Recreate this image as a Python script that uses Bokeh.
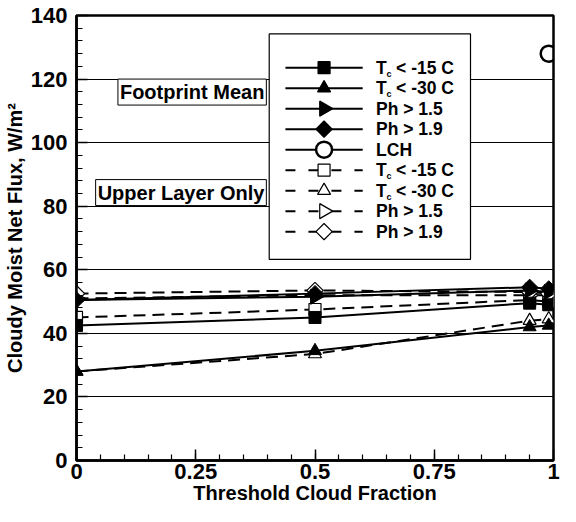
import numpy as np
from bokeh.plotting import figure
from bokeh.models import Range1d, SingleIntervalTicker, NumeralTickFormatter, Label
from bokeh.core.properties import value
from bokeh.embed import file_html
from bokeh.resources import INLINE

# ---------------- data ----------------
threshold = [0.0, 0.5, 0.95, 0.99]

# Footprint mean (solid lines, filled markers)
fm_tc15 = [42.5, 45.0, 49.5, 49.0]
fm_tc30 = [28.0, 34.5, 42.0, 42.5]
fm_ph15 = [50.5, 51.5, 53.5, 53.0]
fm_ph19 = [50.5, 52.5, 54.5, 54.0]

# LCH single value
lch_x = [0.99]
lch_y = [128.0]

# Upper layer only (dashed lines, open markers)
ul_tc15 = [45.0, 47.5, 50.5, 50.0]
ul_tc30 = [28.0, 33.5, 44.0, 44.5]
ul_ph15 = [51.0, 52.0, 52.0, 52.0]
ul_ph19 = [52.5, 53.5, 53.0, 52.5]

legend_labels = [
    ("T", "c", "< -15 C"),
    ("T", "c", "< -30 C"),
    ("Ph > 1.5", "", ""),
    ("Ph > 1.9", "", ""),
    ("LCH", "", ""),
    ("T", "c", "< -15 C"),
    ("T", "c", "< -30 C"),
    ("Ph > 1.5", "", ""),
    ("Ph > 1.9", "", ""),
]
x_tick_interval = 0.25
y_tick_interval = 20
annot_texts = ["Footprint Mean", "Upper Layer Only"]
x_title = "Threshold Cloud Fraction"
y_title = "Cloudy Moist Net Flux, W/m\u00b2"

FONT = "Liberation Sans"
HALF_PI = np.pi / 2
QUARTER_PI = np.pi / 4

# marker styles (marker, size, angle)
MK_SQUARE = ("square", 12, 0.0)
MK_TRI = ("triangle", 13, 0.0)
MK_RTRI = ("triangle", 15, -HALF_PI)
MK_DIAM = ("square", 11.5, QUARTER_PI)
MK_CIRC = ("circle", 16, 0.0)

solid = [(fm_tc15, MK_SQUARE), (fm_tc30, MK_TRI), (fm_ph15, MK_RTRI), (fm_ph19, MK_DIAM)]
dashed = [(ul_tc15, MK_SQUARE), (ul_tc30, MK_TRI), (ul_ph15, MK_RTRI), (ul_ph19, MK_DIAM)]

p = figure(width=560, height=506,
           x_range=Range1d(0, 1), y_range=Range1d(0, 140),
           output_backend="svg", toolbar_location=None,
           min_border_left=0, min_border_right=7,
           min_border_top=15, min_border_bottom=0)
p.background_fill_color = "white"
p.border_fill_color = "white"
p.outline_line_color = "black"
p.outline_line_width = 2.5

p.xaxis.ticker = SingleIntervalTicker(interval=x_tick_interval, num_minor_ticks=5)
p.yaxis.ticker = SingleIntervalTicker(interval=y_tick_interval, num_minor_ticks=5)
p.xaxis.formatter = NumeralTickFormatter(format="0.[00]")
p.xaxis.axis_label = x_title
p.yaxis.axis_label = y_title
for ax in (p.xaxis, p.yaxis):
    ax.axis_line_color = "black"
    ax.axis_line_width = 2.5
    ax.major_tick_in = 11
    ax.major_tick_out = 0
    ax.minor_tick_in = 6
    ax.minor_tick_out = 0
    ax.major_tick_line_color = "black"
    ax.minor_tick_line_color = "black"
    ax.major_tick_line_width = 1.5
    ax.minor_tick_line_width = 1.2
    ax.major_label_text_font = FONT
    ax.major_label_text_font_style = "bold"
    ax.major_label_text_font_size = "22px"
    ax.major_label_text_color = "black"
    ax.axis_label_text_font = FONT
    ax.axis_label_text_font_style = "bold"
    ax.axis_label_text_font_size = "20px"
    ax.axis_label_text_color = "black"
p.xaxis.major_label_standoff = 3
p.xaxis.axis_label_standoff = 0
p.yaxis.major_label_standoff = 9
p.yaxis.axis_label_standoff = 2

p.xgrid.visible = False
p.ygrid.grid_line_color = "black"
p.ygrid.grid_line_width = 1
p.ygrid.grid_line_alpha = 1.0

DATA_DASH = "12 7"

# upper-layer (dashed) series first, then footprint mean on top
for ys, (mk, sz, ang) in dashed:
    p.line(threshold, ys, line_color="black", line_width=2, line_dash=DATA_DASH)
    p.scatter(threshold, ys, marker=mk, size=sz, angle=ang,
              fill_color="white", line_color="black", line_width=1.2)
for ys, (mk, sz, ang) in solid:
    p.line(threshold, ys, line_color="black", line_width=2)
    p.scatter(threshold, ys, marker=mk, size=sz, angle=ang,
              fill_color="black", line_color="black", line_width=1)
p.scatter(lch_x, lch_y, marker="circle", size=16,
          fill_color=None, line_color="black", line_width=2.5)

# ---------------- legend box (layout in axis units) ----------------
LEG_L, LEG_R, LEG_T, LEG_B = 0.404, 0.826, 134.2, 63.3
LINE_X0, LINE_X1, MARK_X, TEXT_X = 0.438, 0.600, 0.519, 0.628
ROW0, ROW_STEP = 123.6, 6.45
LEG_DASH = "10 13"

p.quad(left=[LEG_L], right=[LEG_R], top=[LEG_T], bottom=[LEG_B],
       fill_color="white", line_color="black", line_width=1.2)

legend_styles = [(s[1], "solid", "black") for s in solid] + [(MK_CIRC, "solid", None)] + \
                [(s[1], LEG_DASH, "white") for s in dashed]

for i, ((mk, sz, ang), dash, fill) in enumerate(legend_styles):
    ry = ROW0 - i * ROW_STEP
    p.line([LINE_X0, LINE_X1], [ry, ry], line_color="black", line_width=2, line_dash=dash)
    if mk == "circle":
        p.scatter([MARK_X], [ry], marker=mk, size=sz, fill_color="white",
                  line_color="black", line_width=2.5)
    else:
        p.scatter([MARK_X], [ry], marker=mk, size=sz, angle=ang, fill_color=fill,
                  line_color="black", line_width=1.2)
    main, sub, rest = legend_labels[i]
    p.text([TEXT_X], [ry], text=[main], text_font=value(FONT), text_font_style="bold",
           text_font_size="17.5px", text_baseline="middle", text_align="left",
           text_color="black")
    if sub:
        p.text([TEXT_X], [ry], text=[sub], x_offset=10.5, y_offset=6,
               text_font=value(FONT), text_font_style="bold",
               text_font_size="9px", text_baseline="middle", text_align="left",
               text_color="black")
    if rest:
        p.text([TEXT_X], [ry], text=[rest], x_offset=20,
               text_font=value(FONT), text_font_style="bold",
               text_font_size="17.5px", text_baseline="middle", text_align="left",
               text_color="black")

# ---------------- boxed annotations ----------------
for txt, yy, base in [(annot_texts[0], 120.0, "top"), (annot_texts[1], 80.2, "bottom")]:
    p.add_layout(Label(x=0.398, y=yy, text=txt, text_align="right", text_baseline=base,
                       text_font=FONT, text_font_style="bold", text_font_size="20px",
                       text_line_height=1.0,
                       text_color="black", background_fill_color="white",
                       border_line_color="black", border_line_width=1, padding=2))

open("out.html", "w").write(file_html(p, INLINE))
